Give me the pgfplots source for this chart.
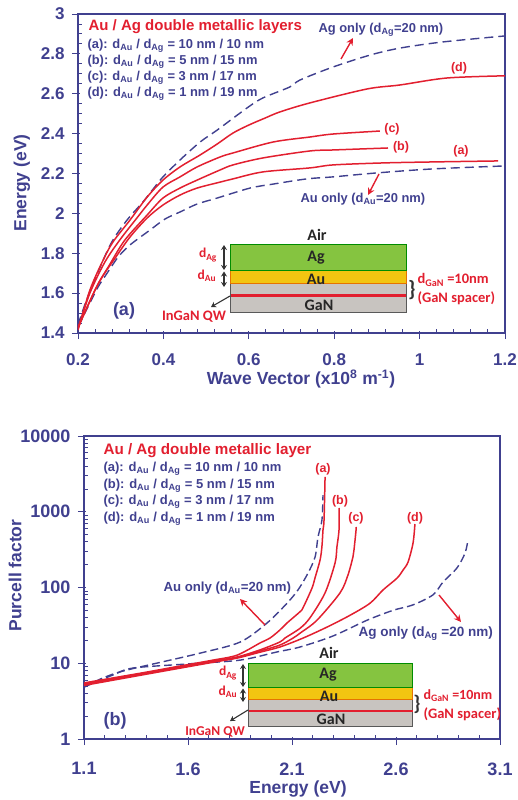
\documentclass[border=0pt]{standalone}
\usepackage{fontspec}
\setmainfont{Liberation Sans}
\newfontfamily\calfont{Carlito}
\usepackage{pgfplots}
\pgfplotsset{compat=1.18}
\usetikzlibrary{arrows.meta}
\definecolor{navy}{HTML}{40408F}
\definecolor{redc}{HTML}{E21F2F}
\definecolor{agg}{HTML}{85C440}
\definecolor{aug}{HTML}{F2C511}
\definecolor{gang}{HTML}{C8C4C0}
\newcommand\fs[1]{\fontsize{#1}{#1}\selectfont\bfseries}
\newcommand\cf[1]{\fontsize{#1}{#1}\selectfont\calfont\bfseries}
\newcommand\sub[1]{\textsubscript{#1}}
\pgfplotsset{
  common/.style={
    scale only axis, clip=true,
    axis line style={navy,line width=1.3pt},
    tick style={navy,line width=0.9pt},
    tick align=inside, xtick pos=bottom, ytick pos=left,
    major tick length=8pt, minor tick length=4pt,
    major x tick style={yshift=-6pt},
    major y tick style={xshift=-6pt},
    /pgf/number format/assume math mode=true,
    tick label style={font=\fs{17},text=navy},
  },
  dashc/.style={navy,line width=1.4pt,dash pattern=on 9pt off 5pt,smooth,no markers},
  redl/.style={redc,line width=1.5pt,smooth,no markers},
}
\begin{document}
\begin{tikzpicture}[x=1pt,y=-1pt]
\useasboundingbox (0,0) rectangle (517,800);
% ---------- panel (a)
\begin{axis}[common,at={(78pt,-333pt)},anchor=south west,width=427pt,height=319pt,
  xmin=0.2,xmax=1.2,ymin=1.4,ymax=3,
  xtick={0.2,0.4,0.6,0.8,1,1.2},xticklabels={0.2,0.4,0.6,0.8,1,1.2},
  ytick={1.4,1.6,1.8,2,2.2,2.4,2.6,2.8,3},yticklabels={1.4,1.6,1.8,2,2.2,2.4,2.6,2.8,3},
  minor x tick num=4,minor y tick num=3,
  xticklabel style={yshift=-17pt},yticklabel style={xshift=-10pt},
  xlabel={Wave Vector (x10\textsuperscript{8} m\textsuperscript{-1})},
  ylabel={Energy (eV)},
  every axis x label/.style={at={(axis description cs:0.5,0)},anchor=center,xshift=9.5pt,yshift=-46pt,font=\fs{17.5},text=navy},
  every axis y label/.style={at={(axis description cs:0,0.5)},anchor=center,rotate=90,xshift=-9.5pt,yshift=56pt,font=\fs{17.5},text=navy},
]
\addplot[dashc] coordinates {(0.2,1.44)(0.221,1.571)(0.259,1.766)(0.282,1.867)(0.315,1.967)(0.352,2.057)(0.376,2.122)(0.399,2.183)(0.439,2.268)(0.486,2.358)(0.526,2.418)(0.596,2.529)(0.633,2.579)(0.696,2.634)(0.72,2.669)(0.797,2.734)(0.884,2.794)(0.954,2.829)(1.055,2.86)(1.2,2.89)};
\addplot[dashc] coordinates {(0.2,1.43)(0.228,1.551)(0.247,1.631)(0.27,1.706)(0.294,1.781)(0.322,1.842)(0.369,1.917)(0.404,1.972)(0.439,2.007)(0.479,2.047)(0.526,2.077)(0.603,2.127)(0.657,2.147)(0.736,2.173)(0.797,2.183)(0.9,2.203)(1.031,2.223)(1.2,2.238)};
\addplot[redl] coordinates {(0.2,1.43)(0.228,1.56)(0.252,1.666)(0.287,1.776)(0.322,1.882)(0.362,1.977)(0.399,2.042)(0.439,2.092)(0.479,2.127)(0.533,2.157)(0.563,2.173)(0.633,2.208)(0.743,2.228)(0.797,2.243)(0.914,2.253)(1.031,2.258)(1.184,2.263)};
\addplot[redl] coordinates {(0.2,1.425)(0.24,1.616)(0.275,1.746)(0.31,1.867)(0.362,1.992)(0.399,2.077)(0.439,2.127)(0.479,2.167)(0.533,2.218)(0.563,2.243)(0.633,2.278)(0.743,2.313)(0.797,2.318)(0.926,2.328)};
\addplot[redl] coordinates {(0.2,1.42)(0.228,1.601)(0.263,1.756)(0.298,1.867)(0.338,1.977)(0.362,2.042)(0.399,2.132)(0.439,2.183)(0.479,2.233)(0.533,2.283)(0.563,2.303)(0.657,2.358)(0.743,2.383)(0.797,2.398)(0.907,2.413)};
\addplot[redl] coordinates {(0.2,1.415)(0.228,1.616)(0.259,1.766)(0.282,1.857)(0.322,1.967)(0.362,2.082)(0.399,2.167)(0.439,2.233)(0.486,2.293)(0.526,2.348)(0.563,2.403)(0.6,2.443)(0.638,2.478)(0.673,2.509)(0.743,2.554)(0.877,2.624)(0.954,2.644)(1.064,2.679)(1.2,2.69)};
\end{axis}
% ---------- panel (b)
\begin{axis}[common,at={(84pt,-739pt)},anchor=south west,width=416pt,height=303pt,
  ymode=log,xmin=1.1,xmax=3.1,ymin=1,ymax=10000,
  xtick={1.1,1.6,2.1,2.6,3.1},xticklabels={1.1,1.6,2.1,2.6,3.1},
  ytick={1,10,100,1000,10000},yticklabels={1,10,100,1000,10000},
  minor ytick={2,3,4,5,6,7,8,9,20,30,40,50,60,70,80,90,200,300,400,500,600,700,800,900,2000,3000,4000,5000,6000,7000,8000,9000},
  minor x tick num=4,
  tick label style={font=\fs{18},text=navy},
  xticklabel style={yshift=-20pt},yticklabel style={xshift=-10pt},
  xlabel={Energy (eV)},ylabel={Purcell factor},
  every axis x label/.style={at={(axis description cs:0.5,0)},anchor=center,xshift=6pt,yshift=-50pt,font=\fs{17.5},text=navy},
  every axis y label/.style={at={(axis description cs:0,0.5)},anchor=center,rotate=90,xshift=12pt,yshift=69pt,font=\fs{17.5},text=navy},
]
\addplot[dashc,dash pattern=on 8pt off 4pt] coordinates {(1.1,4.85)(1.191,6.4)(1.288,7.9)(1.475,10.4)(1.658,13.6)(1.85,19)(1.98,34)(2.076,62)(2.129,93)(2.177,155)(2.211,253)(2.225,464)(2.244,778)(2.249,1663)};
\addplot[dashc,dash pattern=on 8pt off 4pt] coordinates {(1.1,4.85)(1.239,7)(1.336,8.65)(1.6,9.8)(1.85,11)(2.028,14.1)(2.139,16.4)(2.297,22.9)(2.461,37)(2.586,50)(2.682,59)(2.778,80)(2.826,118)(2.893,181)(2.932,285)(2.946,424)};
\addplot[redl] coordinates {(1.1,5.5)(1.239,6.4)(1.403,7.66)(1.562,9.2)(1.72,11)(1.836,12.8)(1.946,18.5)(1.994,21.5)(2.042,27.5)(2.076,34)(2.139,48)(2.153,54)(2.196,98)(2.211,135)(2.235,231)(2.244,350)(2.249,574)(2.254,778)(2.259,2878)};
\addplot[redl] coordinates {(1.1,5.3)(1.239,6.3)(1.403,7.5)(1.562,9)(1.72,10.7)(1.836,12.1)(1.946,15)(2.042,19.1)(2.066,21.5)(2.139,29)(2.187,40)(2.259,85)(2.307,211)(2.316,343)(2.326,574)(2.326,1121)};
\addplot[redl] coordinates {(1.1,5.2)(1.403,7.4)(1.72,10.5)(1.836,11.9)(1.946,14.5)(2.042,17.4)(2.105,21.5)(2.139,25)(2.22,37)(2.331,85)(2.369,146)(2.393,253)(2.398,313)(2.408,574)(2.408,629)};
\addplot[redl] coordinates {(1.1,5.1)(1.403,7.2)(1.72,10.3)(1.836,11.7)(1.946,14)(2.042,16.4)(2.153,21.5)(2.268,30)(2.379,43)(2.475,62)(2.538,93)(2.605,133)(2.634,170)(2.658,217)(2.682,387)(2.691,689)};
\end{axis}
% ---------- text of panel (a)
\node[anchor=west,text=redc,font=\fs{15}] at (85,27) {Au / Ag double metallic layers};
\foreach \y/\t in {46/{(a): d\sub{Au} / d\sub{Ag} = 10 nm / 10 nm},62/{(b): d\sub{Au} / d\sub{Ag} = 5 nm / 15 nm},78/{(c): d\sub{Au} / d\sub{Ag} = 3 nm / 17 nm},94/{(d): d\sub{Au} / d\sub{Ag} = 1 nm / 19 nm}}
  \node[anchor=west,text=navy,font=\fs{12.9}] at (84,\y) {\t};
\node[anchor=west,text=navy,font=\fs{12.9}] at (315,30) {Ag only (d\sub{Ag}=20 nm)};
\node[anchor=west,text=navy,font=\fs{12.9}] at (297,199) {Au only (d\sub{Au}=20 nm)};
\draw[redc,line width=1.4pt,-{Stealth[length=7pt,width=7pt]}] (341,59)--(353,38);
\draw[redc,line width=1.4pt,-{Stealth[length=7pt,width=7pt]}] (379,174)--(368,195);
\foreach \x/\y/\t in {459/68/(d),392/129/(c),401/147/(b),461/151/(a)}
  \node[text=redc,font=\fs{12.5}] at (\x,\y) {\t};
\node[text=navy,font=\fs{18}] at (124,311) {(a)};
% inset (a)
\fill[gang,draw=gray!70!black,line width=0.6pt] (230.5,283.5) rectangle (406,312);
\fill[aug,draw=orange!90!black,line width=0.8pt] (230.5,270) rectangle (406,283.5);
\fill[agg,draw=green!55!black,line width=0.7pt] (230.5,244.5) rectangle (406,270);
\draw[redc,line width=2.8pt] (230.5,295.7)--(406,295.7);
\node[font=\cf{16},text=black!85] at (317,235) {Air};
\node[font=\cf{16},text=black!85] at (316,258) {Ag};
\node[font=\cf{16},text=black!85] at (316,279) {Au};
\node[font=\cf{16},text=black!85] at (319,305) {GaN};
\draw[black!80,line width=1.3pt,{Stealth[length=5pt,width=6pt]}-{Stealth[length=5pt,width=6pt]}] (224,245)--(224,270);
\draw[black!80,line width=1.3pt,{Stealth[length=5pt,width=6pt]}-{Stealth[length=5pt,width=6pt]}] (224,271.5)--(224,287);
\draw[black!80,line width=1.1pt,-{Stealth[length=5pt,width=6pt]}] (230,296)--(211,307);
\node[text=redc,font=\cf{13.5}] at (208,255) {d\sub{Ag}};
\node[text=redc,font=\cf{13.5}] at (207,276) {d\sub{Au}};
\node[text=redc,font=\cf{14.5}] at (194,317) {InGaN QW};
\node[font=\cf{22},text=black!80] at (412,290) {\}};
\node[anchor=west,text=redc,font=\cf{14.5}] at (414,280) {d\sub{GaN} =10nm};
\node[anchor=west,text=redc,font=\cf{14.5}] at (414,298) {(GaN spacer)};
% ---------- text of panel (b)
\node[anchor=west,text=redc,font=\fs{15.2}] at (100,451) {Au / Ag double metallic layer};
\foreach \y/\t in {469/{(a): d\sub{Au} / d\sub{Ag} = 10 nm / 10 nm},486/{(b): d\sub{Au} / d\sub{Ag} = 5 nm / 15 nm},502/{(c): d\sub{Au} / d\sub{Ag} = 3 nm / 17 nm},519/{(d): d\sub{Au} / d\sub{Ag} = 1 nm / 19 nm}}
  \node[anchor=west,text=navy,font=\fs{13}] at (100,\y) {\t};
\node[anchor=west,text=navy,font=\fs{13.2}] at (160,588) {Au only (d\sub{Au}=20 nm)};
\node[anchor=west,text=navy,font=\fs{13.5}] at (355,634) {Ag only (d\sub{Ag} =20 nm)};
\draw[redc,line width=1.4pt,-{Stealth[length=7pt,width=7pt]}] (265,625)--(240,599);
\draw[redc,line width=1.4pt,-{Stealth[length=7pt,width=7pt]}] (439,595)--(461,622);
\foreach \x/\y/\t in {323/469/(a),340/501/(b),356/518/(c),415/518/(d)}
  \node[text=redc,font=\fs{12.5}] at (\x,\y) {\t};
\node[text=navy,font=\fs{18}] at (115,721) {(b)};
% inset (b)
\fill[gang,draw=gray!70!black,line width=0.6pt] (248.5,699) rectangle (412,726);
\fill[aug,draw=orange!90!black,line width=0.8pt] (248.5,687) rectangle (412,699);
\fill[agg,draw=green!55!black,line width=0.7pt] (248.5,663) rectangle (412,687);
\draw[redc,line width=2pt] (248.5,711)--(413,711);
\node[font=\cf{16},text=black!85] at (329,653) {Air};
\node[font=\cf{16},text=black!85] at (328,675) {Ag};
\node[font=\cf{16},text=black!85] at (329,696) {Au};
\node[font=\cf{16},text=black!85] at (331,719) {GaN};
\draw[black!80,line width=1.3pt,{Stealth[length=5pt,width=6pt]}-{Stealth[length=5pt,width=6pt]}] (243,664)--(243,687);
\draw[black!80,line width=1.3pt,{Stealth[length=5pt,width=6pt]}-{Stealth[length=5pt,width=6pt]}] (243,688.5)--(243,702);
\draw[black!80,line width=1.1pt,-{Stealth[length=5pt,width=6pt]}] (248,710)--(230,721);
\node[text=redc,font=\cf{13.5}] at (228,673) {d\sub{Ag}};
\node[text=redc,font=\cf{13.5}] at (228,692) {d\sub{Au}};
\node[text=redc,font=\cf{13.5}] at (215,732) {InGaN QW};
\node[font=\cf{21},text=black!80] at (417,704) {\}};
\node[anchor=west,text=redc,font=\cf{14}] at (420,696) {d\sub{GaN} =10nm};
\node[anchor=west,text=redc,font=\cf{14.5}] at (420,714) {(GaN spacer)};
\end{tikzpicture}
\end{document}
